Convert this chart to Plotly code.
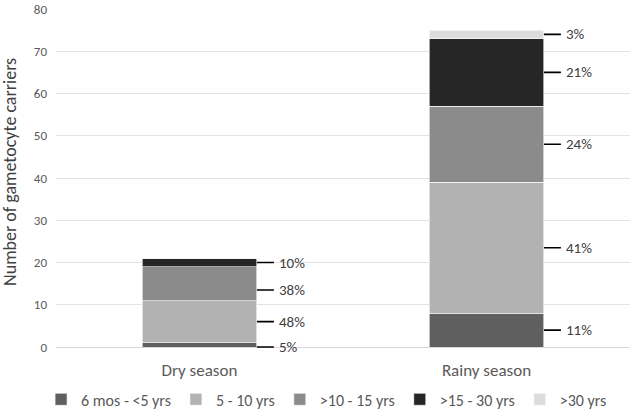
import plotly.graph_objects as go

categories = ["Dry season", "Rainy season"]
age_groups = ["6 mos - <5 yrs", "5 - 10 yrs", ">10 - 15 yrs", ">15 - 30 yrs", ">30 yrs"]
dry_values = [1, 10, 8, 2, 0]
rainy_values = [8, 31, 18, 16, 2]
dry_pct = ["5%", "48%", "38%", "10%", None]
rainy_pct = ["11%", "41%", "24%", "21%", "3%"]
colors = ["#5f5f5f", "#b2b2b2", "#8b8b8b", "#262626", "#dcdcdc"]

FONT = "Carlito, Lato, 'Open Sans', sans-serif"
bar_width = 0.40

fig = go.Figure()
for i, grp in enumerate(age_groups):
    fig.add_trace(go.Bar(
        name=grp, x=[0, 1], y=[dry_values[i], rainy_values[i]],
        marker=dict(color=colors[i], line=dict(color="white", width=0.6)),
        width=bar_width,
    ))

def label_positions(values, pcts, min_gap=6.5):
    mids, cum = [], 0
    for v in values:
        mids.append(cum + v / 2)
        cum += v
    idx = [k for k, p in enumerate(pcts) if p]
    pos = {}
    prev = None
    for k in reversed(idx):
        y = mids[k]
        if prev is not None:
            y = min(y, prev - min_gap)
        y = max(y, 0)
        pos[k] = y
        prev = y
    return pos

for ci, (vals, pcts) in enumerate([(dry_values, dry_pct), (rainy_values, rainy_pct)]):
    pos = label_positions(vals, pcts)
    for k, y in pos.items():
        fig.add_annotation(
            x=ci + bar_width / 2, y=y, xref="x", yref="y",
            text=pcts[k], showarrow=True, arrowhead=0, arrowwidth=1.6,
            arrowcolor="#000000", ax=20, ay=0, xanchor="left", startstandoff=3,
            font=dict(family=FONT, size=15, color="#404040"),
        )

fig.add_annotation(
    x=-0.079, y=0.517, xref="paper", yref="paper", text="Number of gametocyte carriers",
    textangle=-90, showarrow=False, xanchor="center", yanchor="middle",
    font=dict(family=FONT, size=18, color="#404040"),
)

fig.update_layout(
    width=638, height=416,
    margin=dict(l=56, r=8, t=9, b=69, autoexpand=False),
    paper_bgcolor="white", plot_bgcolor="white",
    barmode="stack", bargap=0.60,
    font=dict(family=FONT, size=13, color="#595959"),
    legend=dict(orientation="h", x=-0.026, xanchor="left", y=-0.155, yanchor="middle",
                font=dict(family=FONT, size=16, color="#595959"), traceorder="normal",
                itemwidth=30),
    showlegend=True,
)
fig.update_xaxes(
    tickmode="array", tickvals=[0, 1], ticktext=categories, range=[-0.5, 1.5],
    showline=True, linecolor="#d9d9d9", linewidth=1, ticks="", automargin=False,
    ticklabelstandoff=8,
    tickfont=dict(family=FONT, size=17, color="#595959"),
)
fig.update_yaxes(
    range=[0, 80], dtick=10, showgrid=True, gridcolor="#e3e3e3", gridwidth=1,
    zeroline=False, ticks="", automargin=False, ticklabelstandoff=8,
    tickfont=dict(family=FONT, size=13, color="#595959"),
)

fig.write_html("out.html", config={"displayModeBar": False},
               post_script="document.body.style.margin='0px';")
